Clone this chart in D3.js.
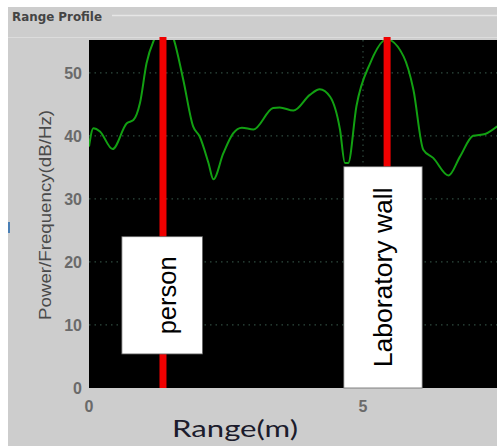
<!DOCTYPE html>
<html>
<head>
<meta charset="utf-8">
<script src="https://cdn.jsdelivr.net/npm/d3@7"></script>
<style>
  body { margin: 0; background: #fff; }
  svg { display: block; }
</style>
</head>
<body>
<div id="vis"></div>
<script>
// range profile (m) vs power (dB/Hz)
var range_m = [0, 0.08, 0.2, 0.43, 0.69, 0.81, 0.93, 1.05, 1.2, 1.37, 1.54, 1.72, 1.9, 2.02, 2.18, 2.27, 2.45, 2.63, 2.79, 3.0, 3.36, 3.48, 3.73, 4.03, 4.21, 4.4, 4.58, 4.67, 4.73, 4.88, 5.13, 5.43, 5.74, 5.92, 6.1, 6.28, 6.56, 6.77, 7.01, 7.23, 7.45];
var power_db = [38.3, 41.2, 40.7, 37.9, 42.0, 42.5, 45.2, 51.5, 55.5, 58.0, 55.5, 48.9, 41.5, 39.9, 35.7, 33.1, 37.2, 40.4, 41.3, 41.0, 44.4, 44.5, 44.0, 46.5, 47.4, 46.2, 41.0, 35.7, 35.7, 44.7, 51.5, 55.3, 52.6, 47.3, 37.8, 36.5, 33.7, 36.7, 40.0, 40.3, 41.5];

var marker_names = ["person", "Laboratory wall"];
var marker_pos = [1.35, 5.44];
// label boxes: [range from, range to, power from, power to]
var box_x0 = [0.6, 4.65];
var box_x1 = [2.07, 6.08];
var box_y0 = [5.4, 0];
var box_y1 = [24.0, 35.1];

var y_ticks = [0, 10, 20, 30, 40, 50];
var x_ticks = [0, 5];

function create_chart() {
    var width = 497, height = 446;
    var svg = d3.select("#vis").append("svg")
        .attr("width", width)
        .attr("height", height);

    // panel background
    svg.append("rect").attr("x", 8).attr("y", 7).attr("width", width - 8).attr("height", height - 7).attr("fill", "#cdcdcd");
    svg.append("line").attr("x1", 112).attr("x2", width).attr("y1", 15.5).attr("y2", 15.5).attr("stroke", "#e6e6e6").attr("stroke-width", 1.5);
    svg.append("line").attr("x1", 8).attr("x2", width).attr("y1", 37.5).attr("y2", 37.5).attr("stroke", "#dcdcdc").attr("stroke-width", 1);
    svg.append("text").attr("x", 12).attr("y", 21).text("Range Profile")
        .attr("font-family", "DejaVu Sans, sans-serif").attr("font-size", 11.5).attr("font-weight", "bold").attr("fill", "#444")
        .attr("textLength", 90).attr("lengthAdjust", "spacingAndGlyphs");
    svg.append("rect").attr("x", 8).attr("y", 222).attr("width", 2).attr("height", 11).attr("fill", "#4a7fb5");

    var pl = 89, pt = 40, pb = 388, pr = 500;
    var x = d3.scaleLinear().domain([0, 7.5]).range([pl, pr]);
    var y = d3.scaleLinear().domain([0, 55.2]).range([pb, pt]);

    svg.append("clipPath").attr("id", "plotclip").append("rect")
        .attr("x", pl).attr("y", pt).attr("width", pr - pl).attr("height", pb - pt);

    svg.append("rect").attr("x", pl).attr("y", pt).attr("width", pr - pl).attr("height", pb - pt).attr("fill", "#000");

    // grid
    var plot = svg.append("g").attr("clip-path", "url(#plotclip)");
    plot.selectAll(".hgrid").data(y_ticks.slice(1)).enter().append("line")
        .attr("x1", pl).attr("x2", pr)
        .attr("y1", function(d) { return y(d); }).attr("y2", function(d) { return y(d); })
        .attr("stroke", "#2f4a3f").attr("stroke-dasharray", "1.5,4").attr("stroke-width", 1.2);
    plot.selectAll(".vgrid").data(x_ticks.slice(1)).enter().append("line")
        .attr("y1", pt).attr("y2", pb)
        .attr("x1", function(d) { return x(d); }).attr("x2", function(d) { return x(d); })
        .attr("stroke", "#2f4a3f").attr("stroke-dasharray", "1.5,4").attr("stroke-width", 1.2);

    // curve
    var line = d3.line()
        .x(function(d, i) { return x(range_m[i]); })
        .y(function(d) { return y(d); })
        .curve(d3.curveMonotoneX);
    plot.append("path").datum(power_db)
        .attr("d", line)
        .attr("fill", "none").attr("stroke", "#12a012").attr("stroke-width", 2);

    // red markers
    svg.selectAll(".marker").data(marker_pos).enter().append("line")
        .attr("x1", function(d) { return x(d); }).attr("x2", function(d) { return x(d); })
        .attr("y1", pt - 3).attr("y2", pb)
        .attr("stroke", "#f00000").attr("stroke-width", 7);

    // label boxes
    var label_len = [78, 180];
    var label_dx = [5, 0];
    marker_names.forEach(function(name, i) {
        var bx0 = x(box_x0[i]), bx1 = x(box_x1[i]);
        var by0 = y(box_y1[i]), by1 = y(box_y0[i]);
        svg.append("rect").attr("x", bx0).attr("y", by0).attr("width", bx1 - bx0).attr("height", by1 - by0)
            .attr("fill", "#fff").attr("stroke", "#666").attr("stroke-width", 0.8);
        var cx = (bx0 + bx1) / 2 + label_dx[i], cy = (by0 + by1) / 2;
        svg.append("text")
            .attr("transform", "translate(" + cx + "," + cy + ") rotate(-90)")
            .attr("text-anchor", "middle").attr("dy", "0.35em")
            .attr("font-family", "Liberation Sans, Arial, sans-serif").attr("font-size", 25)
            .attr("fill", "#000")
            .attr("textLength", label_len[i]).attr("lengthAdjust", "spacingAndGlyphs")
            .text(name);
    });

    // tick labels
    svg.selectAll(".ylab").data(y_ticks).enter().append("text")
        .attr("x", 82).attr("y", function(d) { return y(d); }).attr("dy", "0.36em")
        .attr("text-anchor", "end")
        .attr("font-family", "Liberation Sans, Arial, sans-serif").attr("font-size", 16).attr("font-weight", "bold")
        .attr("fill", "#6a6a6a")
        .text(function(d) { return d; });
    svg.selectAll(".xlab").data(x_ticks).enter().append("text")
        .attr("x", function(d) { return x(d); }).attr("y", 412)
        .attr("text-anchor", "middle")
        .attr("font-family", "Liberation Sans, Arial, sans-serif").attr("font-size", 16).attr("font-weight", "bold")
        .attr("fill", "#6a6a6a")
        .text(function(d) { return d; });

    svg.append("text")
        .attr("transform", "translate(51,215) rotate(-90)")
        .attr("text-anchor", "middle")
        .attr("font-family", "Liberation Sans, Arial, sans-serif").attr("font-size", 17)
        .attr("fill", "#4a4a4a")
        .attr("textLength", 210).attr("lengthAdjust", "spacingAndGlyphs")
        .text("Power/Frequency(dB/Hz)");

    svg.append("text")
        .attr("x", 235).attr("y", 437)
        .attr("text-anchor", "middle")
        .attr("font-family", "Lato, sans-serif").attr("font-size", 24)
        .attr("fill", "#1c1c2c")
        .attr("textLength", 126).attr("lengthAdjust", "spacingAndGlyphs")
        .text("Range(m)");
}

create_chart();
</script>
</body>
</html>
